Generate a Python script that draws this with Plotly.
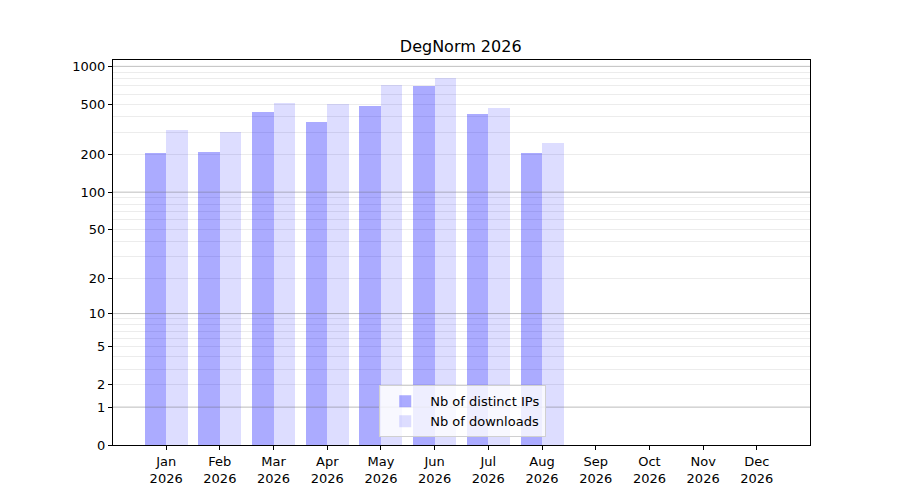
import numpy as np
import plotly.graph_objects as go

months = ["Jan", "Feb", "Mar", "Apr", "May", "Jun", "Jul", "Aug", "Sep", "Oct", "Nov", "Dec"]
year = "2026"
distinct_ips = [204, 209, 434, 362, 485, 699, 419, 204, 0, 0, 0, 0]
downloads = [313, 301, 512, 503, 711, 808, 468, 246, 0, 0, 0, 0]

y_labels = [0, 1, 2, 5, 10, 20, 50, 100, 200, 500, 1000]
decades = [1, 10, 100, 1000]
minor_vals = [v * d for d in (1, 10, 100) for v in (3, 4, 6, 7, 8, 9)]


def tr(v):
    # log10(v + 1) scale so that zero sits on the axis
    return np.log10(np.asarray(v, dtype=float) + 1)


x = np.arange(len(months))
tick_text = [f"{m}<br>{year}" for m in months]

fig = go.Figure()
fig.add_trace(go.Bar(x=x, y=tr(distinct_ips), offset=-0.4, width=0.4,
                     name="Nb of distinct IPs",
                     marker=dict(color="rgba(0,0,255,0.33)", line=dict(width=0)),
                     customdata=distinct_ips, hovertemplate="%{customdata}"))
fig.add_trace(go.Bar(x=x, y=tr(downloads), offset=0.0, width=0.4,
                     name="Nb of downloads",
                     marker=dict(color="rgba(0,0,255,0.135)", line=dict(width=0)),
                     customdata=downloads, hovertemplate="%{customdata}"))

for d in decades:
    fig.add_hline(y=float(tr(d)), line=dict(color="rgba(128,128,128,0.4)", width=1), layer="above")

# page body adds an 8px offset, so margins are trimmed to land on the reference box
fig.update_layout(
    width=900, height=500,
    margin=dict(l=105, r=98, t=52, b=63),
    paper_bgcolor="white", plot_bgcolor="white",
    font=dict(family="DejaVu Sans", size=13, color="black"),
    title=dict(text="DegNorm 2026", x=0.503, xanchor="center", y=0.924, yanchor="middle",
               font=dict(size=16)),
    showlegend=True,
    legend=dict(x=0.382, y=0.02, xanchor="left", yanchor="bottom",
                bgcolor="rgba(255,255,255,0.8)", bordercolor="#d0d0d0", borderwidth=1,
                font=dict(size=13), tracegroupgap=0, itemwidth=40),
    bargap=0,
)
fig.update_xaxes(range=[-0.99, 11.99], tickvals=x, ticktext=tick_text,
                 showgrid=False, zeroline=False, showline=True, linecolor="black", linewidth=1,
                 mirror=True, ticks="outside", ticklen=4, tickcolor="black")
fig.update_yaxes(range=[0, 3.0507], tickvals=tr(y_labels), ticktext=[str(v) for v in y_labels],
                 showgrid=True, gridcolor="#ececec", gridwidth=1,
                 minor=dict(tickvals=tr(minor_vals), showgrid=True,
                            gridcolor="#ececec", ticks=""),
                 zeroline=False, showline=True, linecolor="black", linewidth=1,
                 mirror=True, ticks="outside", ticklen=4, tickcolor="black")

fig.write_html("out.html")
